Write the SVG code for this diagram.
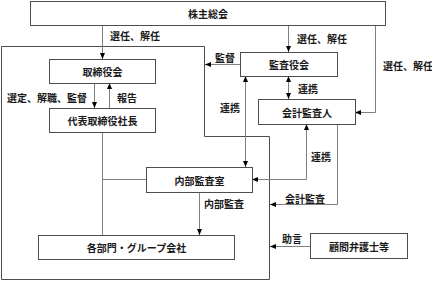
<svg xmlns="http://www.w3.org/2000/svg" width="432" height="281" viewBox="0 0 432 281">
<style>
.box{fill:#fff;stroke:#4d4d4d;stroke-width:1}
.outline{fill:none;stroke:#4d4d4d;stroke-width:1}
.c{fill:none;stroke:#808080;stroke-width:1}
text{font-family:"Noto Sans CJK JP","Noto Sans CJK SC",sans-serif;font-size:10px;font-weight:bold;fill:#1a1a1a;dominant-baseline:central}
.m{text-anchor:middle}
</style>
<defs>
<marker id="ah" markerUnits="userSpaceOnUse" markerWidth="6" markerHeight="6" viewBox="0 0 6 6" refX="6" refY="3" orient="auto-start-reverse">
<path d="M0,0.5 L6,3 L0,5.5 Z" fill="#000"/>
</marker>
</defs>
<rect width="432" height="281" fill="#fff"/>
<path class="outline" d="M1.5,46.5 H204.5 V136.5 H269.5 V279.5 H1.5 Z"/>
<g id="connectors">
<path class="c" d="M102.5,25 V59" marker-end="url(#ah)"/>
<path class="c" d="M94.5,83 V108" marker-end="url(#ah)"/>
<path class="c" d="M109.5,108 V83" marker-end="url(#ah)"/>
<path class="c" d="M288.5,25 V52" marker-end="url(#ah)"/>
<path class="c" d="M288.5,76 V99" marker-start="url(#ah)" marker-end="url(#ah)"/>
<path class="c" d="M375.5,25 V112.5 H355" marker-end="url(#ah)"/>
<path class="c" d="M240,64.5 H205" marker-end="url(#ah)"/>
<path class="c" d="M245.5,76 V167" marker-start="url(#ah)" marker-end="url(#ah)"/>
<path class="c" d="M306.5,124 V179.5 H252" marker-start="url(#ah)" marker-end="url(#ah)"/>
<path class="c" d="M337.5,124 V204.5 H270" marker-end="url(#ah)"/>
<path class="c" d="M310,246.5 H270" marker-end="url(#ah)"/>
<path class="c" d="M199.5,192 V235" marker-end="url(#ah)"/>
<path class="c" d="M102.5,132 V235"/>
<path class="c" d="M146,179.5 H102.5"/>
<text x="110" y="35">選任、解任</text>
<text x="7" y="97">選定、解職、監督</text>
<text x="117" y="97">報告</text>
<text x="215" y="57">監督</text>
<text x="297" y="38">選任、解任</text>
<text x="383" y="65">選任、解任</text>
<text x="298" y="88">連携</text>
<text x="220" y="107">連携</text>
<text x="311" y="156">連携</text>
<text x="285" y="198">会計監査</text>
<text x="204" y="203">内部監査</text>
<text x="282" y="238">助言</text>
</g>
<g id="shareholders"><rect class="box" x="30.5" y="1.5" width="355" height="24"/><text class="m" x="208" y="13.5">株主総会</text></g>
<g id="board"><rect class="box" x="49.5" y="59.5" width="106" height="24"/><text class="m" x="102.5" y="71.5">取締役会</text></g>
<g id="president"><rect class="box" x="49.5" y="108.5" width="106" height="24"/><text class="m" x="102.5" y="120.5">代表取締役社長</text></g>
<g id="auditboard"><rect class="box" x="240.5" y="52.5" width="97" height="24"/><text class="m" x="289" y="64.5">監査役会</text></g>
<g id="accountant"><rect class="box" x="258.5" y="99.5" width="97" height="25"/><text class="m" x="307" y="112">会計監査人</text></g>
<g id="internalaudit"><rect class="box" x="146.5" y="167.5" width="106" height="25"/><text class="m" x="199.5" y="180">内部監査室</text></g>
<g id="departments"><rect class="box" x="38.5" y="235.5" width="196" height="24"/><text class="m" x="136.5" y="247.5">各部門・グループ会社</text></g>
<g id="lawyers"><rect class="box" x="310.5" y="233.5" width="97" height="25"/><text class="m" x="359" y="246">顧問弁護士等</text></g>
</svg>
